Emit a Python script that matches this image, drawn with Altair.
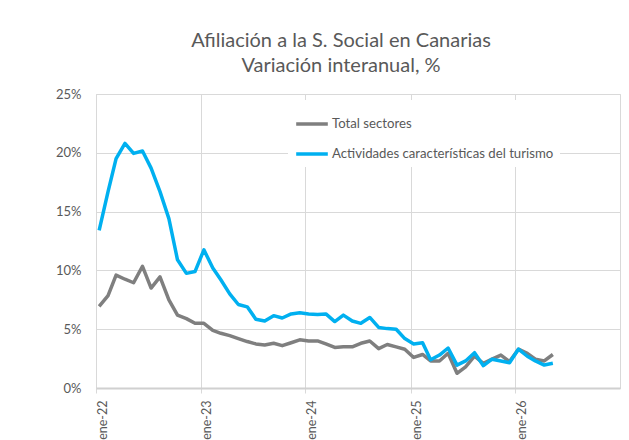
import altair as alt
import pandas as pd

# Monthly dates (Jan 2022 - May 2026)
fechas = [f"{y}-{m:02d}-12" for y in range(2022, 2027) for m in range(1, 13)][:53]

series_names = ["Total sectores", "Actividades características del turismo"]
series_colors = ["#7f7f7f", "#00b0f0"]

total_sectores = [
    6.95, 7.85, 9.6, 9.25, 8.95, 10.35, 8.5, 9.45, 7.5, 6.2, 5.9, 5.5,
    5.5, 4.9, 4.65, 4.45, 4.2, 3.95, 3.75, 3.65, 3.8, 3.6, 3.85, 4.1,
    4.0, 4.0, 3.75, 3.45, 3.5, 3.5, 3.8, 4.0, 3.35, 3.7, 3.5, 3.3,
    2.6, 2.85, 2.3, 2.3, 2.95, 1.25, 1.8, 2.7, 2.1, 2.45, 2.8, 2.25,
    3.3, 2.95, 2.45, 2.3, 2.85,
]

turismo = [
    13.4, 16.7, 19.5, 20.8, 19.95, 20.15, 18.7, 16.7, 14.4, 10.9, 9.75, 9.9,
    11.75, 10.2, 9.2, 8.0, 7.1, 6.9, 5.85, 5.7, 6.15, 5.95, 6.3, 6.4,
    6.3, 6.25, 6.3, 5.65, 6.2, 5.7, 5.5, 6.0, 5.15, 5.05, 5.0, 4.2,
    3.75, 3.85, 2.4, 2.8, 3.4, 1.95, 2.3, 3.0, 1.9, 2.45, 2.3, 2.15,
    3.3, 2.7, 2.3, 1.95, 2.1,
]

y_ticks = [0, 5, 10, 15, 20, 25]
x_years = [2022, 2023, 2024, 2025, 2026]

df = pd.DataFrame({
    "fecha": fechas * 2,
    "serie": [series_names[0]] * len(total_sectores) + [series_names[1]] * len(turismo),
    "valor": total_sectores + turismo,
})

FONT = "Lato"
TXT = "#595959"
GRID = "#d9d9d9"

x = alt.X(
    "fecha:T",
    scale=alt.Scale(
        type="utc",
        domain=[alt.DateTime(year=2022, month=1, date=1, utc=True),
                alt.DateTime(year=2027, month=1, date=1, utc=True)],
    ),
    axis=alt.Axis(
        values=[alt.DateTime(year=yy, month=1, date=1, utc=True) for yy in x_years],
        labelExpr="'ene-' + utcFormat(datum.value, '%y')",
        labelAngle=270,
        labelAlign="right",
        labelBaseline="top",
        labelPadding=7,
        labelFontSize=12.5,
        labelColor=TXT,
        labelFont=FONT,
        grid=True,
        gridColor=GRID,
        domainColor="#d0d0d0",
        domainWidth=2,
        tickColor=GRID,
        tickSize=5,
        title=None,
    ),
)

y = alt.Y(
    "valor:Q",
    scale=alt.Scale(domain=[0, 25]),
    axis=alt.Axis(
        values=y_ticks,
        labelExpr="datum.value + '%'",
        labelFontSize=13,
        labelColor=TXT,
        labelFont=FONT,
        labelPadding=15,
        grid=True,
        gridColor=GRID,
        domain=False,
        ticks=False,
        title=None,
    ),
)

color = alt.Color(
    "serie:N",
    scale=alt.Scale(domain=series_names, range=series_colors),
    legend=alt.Legend(
        title=None,
        orient="none",
        legendX=192,
        legendY=6,
        symbolType="stroke",
        symbolStrokeWidth=3.5,
        symbolSize=1000,
        labelFontSize=13.2,
        labelFont=FONT,
        labelColor=TXT,
        labelOffset=2,
        labelLimit=400,
        fillColor="white",
        padding=6,
        rowPadding=5,
    ),
)

chart = (
    alt.Chart(df)
    .mark_line(strokeWidth=3.5, strokeJoin="round")
    .encode(x=x, y=y, color=color)
    .properties(
        width=524,
        height=294,
        title=alt.Title(
            ["Afiliación a la S. Social en Canarias", "Variación interanual, %"],
            fontSize=20,
            font=FONT,
            color=TXT,
            fontWeight="normal",
            anchor="middle",
            dx=-17,
            offset=12,
            lineHeight=25,
        ),
        autosize=alt.AutoSizeParams(type="none"),
        padding={"left": 88, "top": 86, "right": 1, "bottom": 52},
    )
    .configure_view(stroke=GRID)
)

chart.save("out.html", embed_options={"renderer": "svg", "actions": False})
